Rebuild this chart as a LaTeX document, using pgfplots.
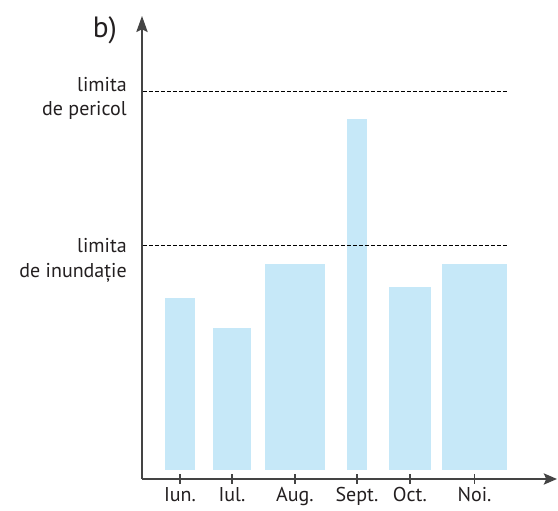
\documentclass[border=0pt]{standalone}
\usepackage{pgfplots}
\pgfplotsset{compat=1.18}
\usepackage{fontspec}
\setmainfont{PT Sans}
\usetikzlibrary{arrows.meta}
\definecolor{barblue}{HTML}{C6E8F8}
\definecolor{axgray}{HTML}{444444}
\definecolor{txt}{HTML}{231F20}
\begin{document}
\begin{tikzpicture}
\begin{axis}[
  x=0.75pt, y=0.75pt,
  xmin=142, xmax=557, ymin=-9, ymax=454,
  axis lines=left,
  axis line style={axgray, line width=1.1pt},
  every outer x axis line/.append style={-{Stealth[length=10pt,width=8.5pt,inset=2pt]}},
  every outer y axis line/.append style={-{Stealth[length=12pt,width=8.5pt,inset=2pt]}},
  clip=false,
  xtick={180,232,295,357,410,474.5},
  xticklabels={Iun.,Iul.,Aug.,Sept.,Oct.,Noi.},
  ytick=\empty,
  tick align=center,
  major tick length=7pt,
  xtick style={axgray, line width=0.9pt},
  x tick label style={font=\fontsize{15}{18}\selectfont, text=txt, yshift=-1.5pt, anchor=north, inner sep=1pt},
  /pgf/number format/assume math mode=true,
]
\addplot[ybar, bar width=30, bar shift=0pt, fill=barblue, draw=none] coordinates {(180,172)};
\addplot[ybar, bar width=38, bar shift=0pt, fill=barblue, draw=none] coordinates {(232,142)};
\addplot[ybar, bar width=60, bar shift=0pt, fill=barblue, draw=none] coordinates {(295,206)};
\addplot[ybar, bar width=20, bar shift=0pt, fill=barblue, draw=none] coordinates {(357,351)};
\addplot[ybar, bar width=42, bar shift=0pt, fill=barblue, draw=none] coordinates {(410,183)};
\addplot[ybar, bar width=65, bar shift=0pt, fill=barblue, draw=none] coordinates {(474.5,206)};
\addplot[black, line width=0.6pt, dash pattern=on 3pt off 1.5pt] coordinates {(143,379) (508,379)};
\addplot[black, line width=0.6pt, dash pattern=on 3pt off 1.5pt] coordinates {(143,225) (508,225)};
\begin{scope}[every node/.style={text=txt, font=\fontsize{15}{18}\selectfont, inner sep=0pt}]
\node[anchor=base east] at (axis cs:127,378) {limita};
\node[anchor=base east] at (axis cs:127,354) {de pericol};
\node[anchor=base east] at (axis cs:127,217) {limita};
\node[anchor=base east] at (axis cs:127,192) {de inundație};
\node[anchor=base east, font=\fontsize{22}{26}\selectfont] at (axis cs:117,432) {b)};
\end{scope}
\coordinate (BL) at (axis cs:0,-41);
\coordinate (TR) at (axis cs:558,470);
\end{axis}
\pgfresetboundingbox
\path (BL) rectangle (TR);
\end{tikzpicture}
\end{document}
